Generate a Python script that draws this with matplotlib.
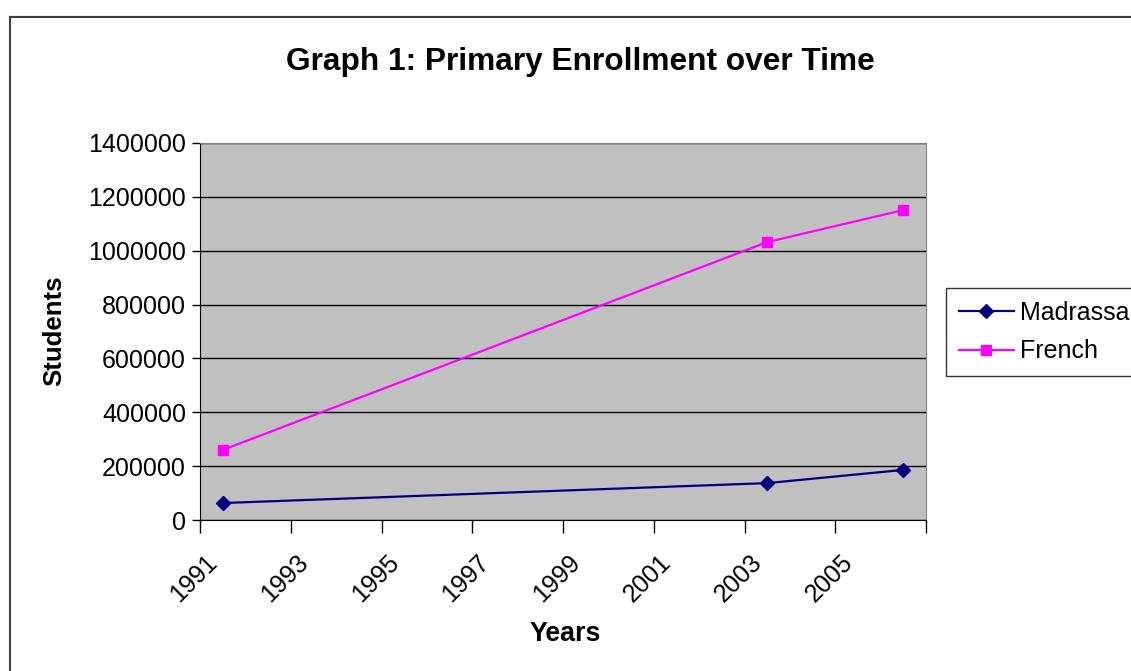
import matplotlib
matplotlib.use("Agg")
import matplotlib.pyplot as plt
from matplotlib.lines import Line2D
import matplotlib.transforms as mtransforms

years = [1991, 2003, 2006]
madrassa = [63000, 137000, 186000]
french = [260000, 1032000, 1151000]
xtick_labels = ["1991", "1993", "1995", "1997", "1999", "2001", "2003", "2005", ""]
xtick_years = [1991, 1993, 1995, 1997, 1999, 2001, 2003, 2005, 2007]
yticks = [0, 200000, 400000, 600000, 800000, 1000000, 1200000, 1400000]

plt.rcParams['font.family'] = ['Liberation Sans', 'DejaVu Sans']

W, H = 1131, 671
fig = plt.figure(figsize=(W / 100, H / 100), dpi=100)
ax = fig.add_axes([200 / W, 1 - 520 / H, 726 / W, 377 / H])
ax.set_facecolor('#C0C0C0')

xs = [y + 0.5 for y in years]
ax.plot(xs, madrassa, color='#000080', lw=1.6, marker='D', ms=7, label='Madrassa', zorder=3)
ax.plot(xs, french, color='#FF00FF', lw=1.6, marker='s', ms=7, label='French', zorder=3)

ax.set_xlim(1991, 2007)
ax.set_ylim(0, 1400000)
ax.set_yticks(yticks)
ax.set_yticklabels([str(v) for v in yticks], fontsize=18)
ax.set_xticks(xtick_years)
ax.set_xticklabels(xtick_labels, fontsize=18, rotation=45, ha='right', rotation_mode='anchor')
ax.tick_params(axis='x', length=9, width=1, direction='out', pad=6)
ax.tick_params(axis='y', length=6, width=1, direction='out', pad=4)
offset = mtransforms.ScaledTranslation(5 / 100, -9 / 100, fig.dpi_scale_trans)
for lab in ax.get_xticklabels():
    lab.set_transform(lab.get_transform() + offset)
ax.yaxis.grid(True, color='black', lw=1)
ax.set_axisbelow(True)
for s in ['left', 'bottom']:
    ax.spines[s].set_color('black')
for s in ['top', 'right']:
    ax.spines[s].set_color('#808080')

fig.text(580 / W, 1 - 62 / H, 'Graph 1: Primary Enrollment over Time', ha='center', va='center',
         fontsize=22.8, fontweight='bold')
fig.text(54 / W, 1 - 331 / H, 'Students', ha='center', va='center', rotation=90,
         fontsize=18.5, fontweight='bold')
fig.text(565 / W, 1 - 634 / H, 'Years', ha='center', va='center', fontsize=19.3, fontweight='bold')

handles = [Line2D([], [], color='#000080', lw=1.6, marker='D', ms=7),
           Line2D([], [], color='#FF00FF', lw=1.6, marker='s', ms=7)]
leg = fig.legend(handles, ['Madrassa', 'French'], loc='upper left',
                 bbox_to_anchor=(946 / W, 1 - 288 / H), fontsize=18, frameon=True,
                 fancybox=False, edgecolor='black', handlelength=2.2, handletextpad=0.25,
                 borderpad=0.5, labelspacing=0.6, borderaxespad=0)
leg.get_frame().set_linewidth(1)

# outer chart border (left and top visible)
fig.add_artist(Line2D([10 / W, 10 / W], [0, 1 - 17 / H], color='#404040', lw=1.5, transform=fig.transFigure))
fig.add_artist(Line2D([10 / W, 1], [1 - 17 / H, 1 - 17 / H], color='#404040', lw=1.5, transform=fig.transFigure))

fig.savefig('out.png', dpi=100)
